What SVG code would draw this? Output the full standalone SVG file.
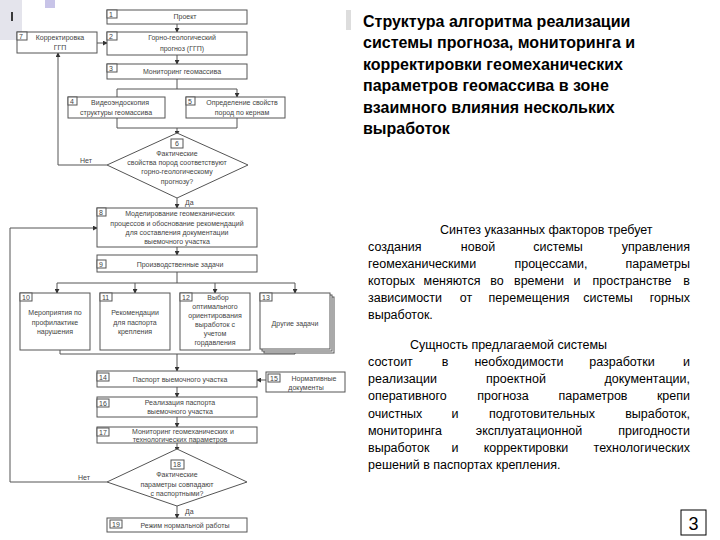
<svg xmlns="http://www.w3.org/2000/svg" width="720" height="540" viewBox="0 0 720 540">
<style>
.b{fill:#fff;stroke:#555;stroke-width:1}
.t{font-family:"Liberation Sans",Arial,sans-serif;font-size:7px;fill:#444;text-anchor:middle}
.n{font-family:"Liberation Sans",Arial,sans-serif;font-size:7px;fill:#444}
.c{fill:none;stroke:#555;stroke-width:1}
.h{font-family:"Liberation Sans",Arial,sans-serif;font-size:16px;font-weight:bold;fill:#000}
.p{font-family:"Liberation Sans",Arial,sans-serif;font-size:12.5px;fill:#000}
.m{text-anchor:middle}.e{text-anchor:end}
</style>
<defs><marker id="a" viewBox="0 0 6 6" refX="5" refY="3" markerWidth="5" markerHeight="5" orient="auto"><path d="M0,0L6,3L0,6z" fill="#333"/></marker></defs>
<rect width="720" height="540" fill="#fff"/>
<rect x="0" y="0" width="22" height="40" fill="#e4e4ec"/>
<rect x="45" y="0" width="10" height="8" fill="#c8c4e8"/>
<line x1="12" y1="12" x2="12" y2="21" stroke="#000" stroke-width="1.5"/>
<rect x="346" y="10" width="5" height="20" fill="#ddd"/>
<g id="connectors">
<path class="c" d="M177,24V32" marker-end="url(#a)"/>
<path class="c" d="M97,43H107" marker-end="url(#a)"/>
<path class="c" d="M177,55V64" marker-end="url(#a)"/>
<path class="c" d="M177,79V89M117,97V89H237V97" marker-end="url(#a)"/>
<path class="c" d="M117,118V128H237V118M177,128V135" marker-end="url(#a)"/>
<path class="c" d="M107,165H58V53" marker-end="url(#a)"/>
<path class="c" d="M177,198V208" marker-end="url(#a)"/>
<path class="c" d="M177,247V255" marker-end="url(#a)"/>
<path class="c" d="M177,272V283M57,283H295"/>
<path class="c" d="M57,283V293" marker-end="url(#a)"/>
<path class="c" d="M135,283V293" marker-end="url(#a)"/>
<path class="c" d="M215,283V293" marker-end="url(#a)"/>
<path class="c" d="M295,283V293" marker-end="url(#a)"/>
<path class="c" d="M60,350V354H295V350M177,354V371" marker-end="url(#a)"/>
<path class="c" d="M266,380H257" marker-end="url(#a)"/>
<path class="c" d="M177,387V397" marker-end="url(#a)"/>
<path class="c" d="M177,417V427" marker-end="url(#a)"/>
<path class="c" d="M177,443V451" marker-end="url(#a)"/>
<path class="c" d="M107,482H10V228H97" marker-end="url(#a)"/>
<path class="c" d="M177,506V518" marker-end="url(#a)"/>
<text class="n" x="80" y="163">Нет</text>
<text class="n" x="185" y="205">Да</text>
<text class="n" x="78" y="480">Нет</text>
<text class="n" x="185" y="514">Да</text>
</g>
<g id="n1"><rect class="b" x="107" y="10" width="140" height="14"/><rect class="b" x="107" y="10" width="10" height="8"/><text class="n" x="109" y="17">1</text><text class="t" x="185" y="19">Проект</text></g>
<g id="n2"><rect class="b" x="107" y="32" width="140" height="23"/><rect class="b" x="107" y="32" width="10" height="8"/><text class="n" x="109" y="39">2</text><text class="t" x="182" y="40">Горно-геологический</text><text class="t" x="182" y="51">прогноз (ГГП)</text></g>
<g id="n7"><rect class="b" x="17" y="32" width="80" height="21"/><rect class="b" x="17" y="32" width="10" height="8"/><text class="n" x="19" y="39">7</text><text class="t" x="60" y="40">Корректировка</text><text class="t" x="60" y="50">ГГП</text></g>
<g id="n3"><rect class="b" x="107" y="64" width="140" height="15"/><rect class="b" x="107" y="64" width="10" height="8"/><text class="n" x="109" y="71">3</text><text class="t" x="182" y="74">Мониторинг геомассива</text></g>
<g id="n4"><rect class="b" x="68" y="97" width="97" height="21"/><rect class="b" x="68" y="97" width="9" height="8"/><text class="n" x="70" y="104">4</text><text class="t" x="120" y="105">Видеоэндоскопия</text><text class="t" x="116" y="115">структуры геомассива</text></g>
<g id="n5"><rect class="b" x="186" y="97" width="99" height="21"/><rect class="b" x="186" y="97" width="9" height="8"/><text class="n" x="188" y="104">5</text><text class="t" x="242" y="105">Определение свойств</text><text class="t" x="242" y="115">пород по кернам</text></g>
<g id="n6"><path class="b" d="M177,133L248,165L177,198L107,165Z"/><rect class="b" x="171" y="139" width="12" height="9"/><text class="t" x="177" y="146">6</text><text class="t" x="177" y="156">Фактические</text><text class="t" x="177" y="165">свойства пород соответствуют</text><text class="t" x="177" y="174">горно-геологическому</text><text class="t" x="177" y="184">прогнозу?</text></g>
<g id="n8"><rect class="b" x="97" y="208" width="160" height="39"/><rect class="b" x="97" y="208" width="9" height="8"/><text class="n" x="99" y="215">8</text><text class="t" x="180" y="216">Моделирование геомеханических</text><text class="t" x="177" y="226">процессов и обоснование рекомендаций</text><text class="t" x="177" y="235">для составления документации</text><text class="t" x="177" y="244">выемочного участка</text></g>
<g id="n9"><rect class="b" x="97" y="255" width="160" height="17" stroke="#bbb"/><rect class="b" x="97" y="260" width="9" height="8"/><text class="n" x="99" y="267">9</text><text class="t" x="180" y="267">Производственные задачи</text></g>
<g id="n10"><rect class="b" x="20" y="293" width="70" height="57"/><rect class="b" x="20" y="293" width="12" height="8"/><text class="n" x="22" y="300">10</text><text class="t" x="55" y="315">Мероприятия по</text><text class="t" x="55" y="325">профилактике</text><text class="t" x="55" y="334">нарушения</text></g>
<g id="n11"><rect class="b" x="100" y="293" width="70" height="57"/><rect class="b" x="100" y="293" width="12" height="8"/><text class="n" x="102" y="300">11</text><text class="t" x="135" y="315">Рекомендации</text><text class="t" x="135" y="325">для паспорта</text><text class="t" x="135" y="334">крепления</text></g>
<g id="n12"><rect class="b" x="180" y="293" width="70" height="57"/><rect class="b" x="180" y="293" width="12" height="8"/><text class="n" x="182" y="300">12</text><text class="t" x="218" y="300">Выбор</text><text class="t" x="215" y="309">оптимального</text><text class="t" x="215" y="318">ориентирования</text><text class="t" x="215" y="327">выработок с</text><text class="t" x="215" y="336">учетом</text><text class="t" x="215" y="345">гордавления</text></g>
<g id="n13"><rect class="b" x="264" y="297" width="70" height="56"/><rect class="b" x="262" y="295" width="70" height="56"/><rect class="b" x="260" y="293" width="70" height="56"/><rect class="b" x="260" y="293" width="12" height="8"/><text class="n" x="262" y="300">13</text><text class="t" x="295" y="326">Другие задачи</text></g>
<g id="n14"><rect class="b" x="97" y="371" width="160" height="16"/><rect class="b" x="97" y="373" width="12" height="8"/><text class="n" x="99" y="380">14</text><text class="t" x="180" y="382">Паспорт выемочного участка</text></g>
<g id="n15"><rect class="b" x="266" y="372" width="79" height="20"/><rect class="b" x="268" y="374" width="12" height="8"/><text class="n" x="270" y="381">15</text><text class="t" x="314" y="381">Нормативные</text><text class="t" x="306" y="390">документы</text></g>
<g id="n16"><rect class="b" x="97" y="397" width="160" height="20"/><rect class="b" x="97" y="399" width="12" height="8"/><text class="n" x="99" y="406">16</text><text class="t" x="180" y="405">Реализация паспорта</text><text class="t" x="180" y="414">выемочного участка</text></g>
<g id="n17"><rect class="b" x="97" y="427" width="160" height="16"/><rect class="b" x="97" y="428" width="12" height="8"/><text class="n" x="99" y="435">17</text><text class="t" x="183" y="434">Мониторинг геомеханических и</text><text class="t" x="180" y="442">технологических параметров</text></g>
<g id="n18"><path class="b" d="M177,449L247,482L177,506L107,482Z"/><rect class="b" x="171" y="460" width="13" height="9"/><text class="t" x="177" y="467">18</text><text class="t" x="177" y="477">Фактические</text><text class="t" x="177" y="487">параметры совпадают</text><text class="t" x="177" y="496">с паспортными?</text></g>
<g id="n19"><rect class="b" x="107" y="518" width="140" height="14"/><rect class="b" x="110" y="520" width="12" height="8"/><text class="n" x="112" y="527">19</text><text class="t" x="185" y="528">Режим нормальной работы</text></g>
<g id="title">
<text class="h" x="363" y="27">Структура алгоритма реализации</text>
<text class="h" x="363" y="48">системы прогноза, мониторинга и</text>
<text class="h" x="363" y="70">корректировки геомеханических</text>
<text class="h" x="363" y="91">параметров геомассива в зоне</text>
<text class="h" x="363" y="113">взаимного влияния нескольких</text>
<text class="h" x="363" y="134">выработок</text>
</g>
<g id="body" class="p">
<text class="p" x="440" y="234">Синтез указанных факторов требует</text>
<text class="p" x="368" y="251">создания</text><text class="p m" x="478" y="251">новой</text><text class="p m" x="558" y="251">системы</text><text class="p e" x="690" y="251">управления</text>
<text class="p" x="368" y="268">геомеханическими</text><text class="p m" x="551" y="268">процессами,</text><text class="p e" x="690" y="268">параметры</text>
<text class="p" x="368" y="285">которых</text><text class="p m" x="452" y="285">меняются</text><text class="p m" x="497" y="285">во</text><text class="p m" x="539" y="285">времени</text><text class="p m" x="577" y="285">и</text><text class="p m" x="632" y="285">пространстве</text><text class="p e" x="690" y="285">в</text>
<text class="p" x="368" y="302">зависимости</text><text class="p m" x="466" y="302">от</text><text class="p m" x="529" y="302">перемещения</text><text class="p m" x="608" y="302">системы</text><text class="p e" x="690" y="302">горных</text>
<text class="p" x="368" y="319">выработок.</text>
<text class="p" x="410" y="349">Сущность предлагаемой системы</text>
<text class="p" x="368" y="366">состоит</text><text class="p m" x="445" y="366">в</text><text class="p m" x="519" y="366">необходимости</text><text class="p m" x="622" y="366">разработки</text><text class="p e" x="690" y="366">и</text>
<text class="p" x="368" y="383">реализации</text><text class="p m" x="516" y="383">проектной</text><text class="p e" x="690" y="383">документации,</text>
<text class="p" x="368" y="400">оперативного</text><text class="p m" x="503" y="400">прогноза</text><text class="p m" x="593" y="400">параметров</text><text class="p e" x="690" y="400">крепи</text>
<text class="p" x="368" y="418">очистных</text><text class="p m" x="455" y="418">и</text><text class="p m" x="542" y="418">подготовительных</text><text class="p e" x="690" y="418">выработок,</text>
<text class="p" x="368" y="435">мониторинга</text><text class="p m" x="529" y="435">эксплуатационной</text><text class="p e" x="690" y="435">пригодности</text>
<text class="p" x="368" y="452">выработок</text><text class="p m" x="455" y="452">и</text><text class="p m" x="526" y="452">корректировки</text><text class="p e" x="690" y="452">технологических</text>
<text class="p" x="368" y="469">решений в паспортах крепления.</text>
</g>
<g id="page"><rect x="681" y="510" width="25" height="25" fill="#fff" stroke="#000"/><text x="693.5" y="530" text-anchor="middle" style="font-family:'Liberation Sans',Arial,sans-serif;font-size:18px">3</text></g>
</svg>
